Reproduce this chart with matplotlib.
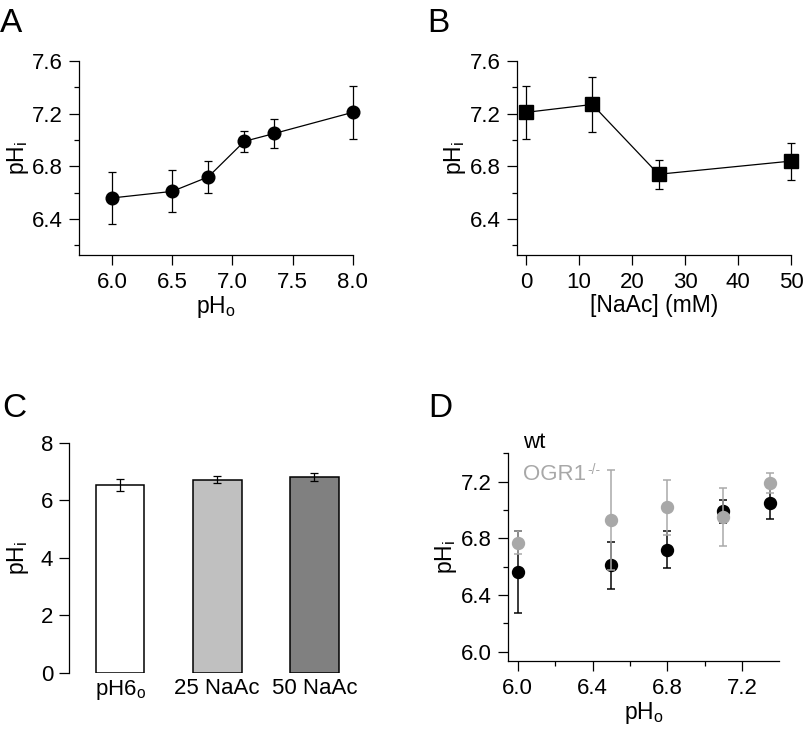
import matplotlib
matplotlib.use("Agg")
import matplotlib.pyplot as plt
from matplotlib.ticker import FixedLocator

plt.rcParams['font.family'] = ['Liberation Sans', 'DejaVu Sans']
plt.rcParams['mathtext.fontset'] = 'custom'
plt.rcParams['mathtext.rm'] = 'Liberation Sans'
plt.rcParams['mathtext.it'] = 'Liberation Sans:italic'
plt.rcParams['mathtext.default'] = 'regular'

# ---- data ----
# Panel A
a_pho = [6.0, 6.5, 6.8, 7.1, 7.35, 8.0]
a_phi = [6.56, 6.61, 6.72, 6.99, 7.05, 7.21]
a_err = [0.20, 0.16, 0.12, 0.08, 0.11, 0.20]
# Panel B
b_naac = [0, 12.5, 25, 50]
b_phi = [7.21, 7.27, 6.74, 6.84]
b_err = [0.20, 0.21, 0.11, 0.14]
# Panel C
c_labels = ['pH6$_{o}$', '25 NaAc', '50 NaAc']
c_phi = [6.53, 6.71, 6.81]
c_err = [0.21, 0.12, 0.15]
c_colors = ['#ffffff', '#c0c0c0', '#808080']
# Panel D
d_pho = [6.0, 6.5, 6.8, 7.1, 7.35]
d_wt = [6.56, 6.61, 6.72, 6.99, 7.05]
d_wt_err = [0.29, 0.165, 0.13, 0.08, 0.11]
d_ko = [6.77, 6.93, 7.02, 6.95, 7.19]
d_ko_err = [0.08, 0.35, 0.195, 0.205, 0.073]

W, H = 805, 735
fig = plt.figure(figsize=(W / 100, H / 100), dpi=100)

FS = 16
LFS = 16.5
LW = 0.9
GRAY = '#a8a8a8'


def ax_px(l, t, r, b):
    return fig.add_axes([l / W, 1 - b / H, (r - l) / W, (b - t) / H])


def style(ax):
    for s in ['top', 'right']:
        ax.spines[s].set_visible(False)
    for s in ['left', 'bottom']:
        ax.spines[s].set_linewidth(LW)
    ax.tick_params(which='major', direction='out', length=7, width=LW, labelsize=FS)
    ax.tick_params(which='minor', direction='out', length=3.5, width=LW)
    ax.tick_params(axis='y', which='major', pad=4.5)
    ax.tick_params(axis='x', which='major', pad=5)
    ax.patch.set_alpha(0)


# ---- A ----
axA = ax_px(79, 61, 352.7, 255)
style(axA)
axA.errorbar(a_pho, a_phi, yerr=a_err, color='black', marker='o', ms=9.1, lw=LW,
             elinewidth=LW, capsize=3, capthick=LW, clip_on=False, zorder=3)
axA.set_xlim(5.726, 8.0)
axA.set_ylim(6.127, 7.6)
axA.set_xticks([6.0, 6.5, 7.0, 7.5, 8.0])
axA.set_xticklabels(['6.0', '6.5', '7.0', '7.5', '8.0'])
axA.set_yticks([6.4, 6.8, 7.2, 7.6])
axA.set_yticklabels(['6.4', '6.8', '7.2', '7.6'])
axA.yaxis.set_minor_locator(FixedLocator([6.2, 6.6, 7.0, 7.4]))
axA.set_xlabel('pH$_{o}$', fontsize=LFS, labelpad=1)
axA.set_ylabel('pH$_{i}$', fontsize=LFS, labelpad=1)

# ---- B ----
axB = ax_px(516.7, 61, 791, 255)
style(axB)
axB.errorbar(b_naac, b_phi, yerr=b_err, color='black', marker='s', ms=9.6, lw=LW,
             elinewidth=LW, capsize=3, capthick=LW, clip_on=False, zorder=3)
axB.set_xlim(-1.76, 50)
axB.set_ylim(6.127, 7.6)
axB.set_xticks([0, 10, 20, 30, 40, 50])
axB.set_yticks([6.4, 6.8, 7.2, 7.6])
axB.set_yticklabels(['6.4', '6.8', '7.2', '7.6'])
axB.yaxis.set_minor_locator(FixedLocator([6.2, 6.6, 7.0, 7.4]))
axB.set_xlabel('[NaAc] (mM)', fontsize=LFS, labelpad=1)
axB.set_ylabel('pH$_{i}$', fontsize=LFS, labelpad=1)

# ---- C ----
axC = ax_px(69, 442.7, 343.6, 672.7)
style(axC)
axC.spines['bottom'].set_visible(False)
xs = list(range(len(c_phi)))
axC.bar(xs, c_phi, width=0.5, color=c_colors, edgecolor='black', linewidth=1.1, zorder=2)
axC.errorbar(xs, c_phi, yerr=c_err, fmt='none', ecolor='black', elinewidth=LW,
             capsize=3, capthick=LW, zorder=3)
axC.set_xlim(-0.525, 2.3)
axC.set_ylim(0, 8)
axC.set_yticks([0, 2, 4, 6, 8])
axC.set_xticks(xs)
axC.set_xticklabels(c_labels)
axC.tick_params(axis='x', length=0, pad=4)
axC.set_ylabel('pH$_{i}$', fontsize=LFS, labelpad=7)

# ---- D ----
axD = ax_px(507.7, 452.7, 779.3, 661)
style(axD)
axD.errorbar(d_pho, d_wt, yerr=d_wt_err, fmt='o', color='black', ms=8.6,
             elinewidth=LW * 1.2, capsize=3, capthick=LW * 1.2, zorder=3)
axD.errorbar(d_pho, d_ko, yerr=d_ko_err, fmt='o', color=GRAY, ms=8.6,
             elinewidth=LW * 1.2, capsize=3, capthick=LW * 1.2, zorder=4)
axD.set_xlim(5.946, 7.4)
axD.set_ylim(5.934, 7.405)
axD.set_xticks([6.0, 6.4, 6.8, 7.2])
axD.set_xticklabels(['6.0', '6.4', '6.8', '7.2'])
axD.xaxis.set_minor_locator(FixedLocator([6.2, 6.6, 7.0]))
axD.set_yticks([6.0, 6.4, 6.8, 7.2])
axD.set_yticklabels(['6.0', '6.4', '6.8', '7.2'])
axD.yaxis.set_minor_locator(FixedLocator([6.2, 6.6, 7.0, 7.4]))
axD.set_xlabel('pH$_{o}$', fontsize=LFS, labelpad=1)
axD.set_ylabel('pH$_{i}$', fontsize=LFS, labelpad=1)
fig.text(523 / W, 1 - 448 / H, 'wt', color='black', fontsize=FS, va='baseline', ha='left')
t_ogr = fig.text(523 / W, 1 - 480 / H, 'OGR1', color=GRAY, fontsize=FS, va='baseline', ha='left')
fig.add_artist(matplotlib.text.Annotation('-/-', xy=(1.0, 1.0), xycoords=t_ogr,
                                          xytext=(1, 1), textcoords='offset points',
                                          color=GRAY, fontsize=10, va='top', ha='left'))

# ---- panel letters ----
for lab, x, y in [('A', 0, 32), ('B', 427, 32), ('C', 2, 417), ('D', 428, 417)]:
    fig.text(x / W, 1 - y / H, lab, fontsize=24, va='baseline', ha='left')

fig.savefig('out.png', dpi=100)
